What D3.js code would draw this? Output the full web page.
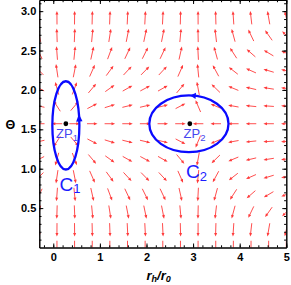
<!DOCTYPE html>
<html>
<head>
<meta charset="utf-8">
<script src="https://cdn.jsdelivr.net/npm/d3@7"></script>
<style>
body { margin: 0; background: #fff; }
text { font-family: "Liberation Sans", Arial, sans-serif; }
.axis text { font-size: 11px; font-weight: bold; fill: #000; }
.axis path, .axis line { stroke: #000; }
</style>
</head>
<body>
<div id="chart"></div>
<script>
// grid of the vector field: columns in r_h/r_0, rows in Θ
var rCols = [-0.3, 0.079, 0.457, 0.836, 1.214, 1.593, 1.971, 2.35, 2.729, 3.107, 3.486, 3.864, 4.243, 4.621, 5.0]
var phiR = [-1.0, -0.15, 0.2, 0.45, 0.75, 0.95, 1.0, 0.95, 0.45, -0.1, -0.55, -1.3, -2.3, -3.4, -4.8]
var thetaRows = [0, 0.224, 0.449, 0.673, 0.898, 1.122, 1.346, 1.571, 1.795, 2.02, 2.244, 2.468, 2.693, 2.917]
var phiTheta = [-1000, -19.7, -4.79, -2.01, -1.02, -0.535, -0.234, 0, 0.234, 0.535, 1.02, 2.01, 4.79, 19.7]

var xTicks = [0, 1, 2, 3, 4, 5]
var yTicks = [0.5, 1.0, 1.5, 2.0, 2.5, 3.0]

// zero points and the contours round them
var zpNames = ["1", "2"]
var zpR = [0.27, 2.93]
var zpTheta = [1.5708, 1.5708]
var cR = [0.27, 2.91]
var cTheta = [1.55, 1.57]
var cHalfR = [0.29, 0.85]
var cHalfTheta = [0.56, 0.36]

var width = 291, height = 285
var box = {left: 39.3, right: 286.3, top: 0, bottom: 247.5}

var x = d3.scaleLinear().domain([-0.3, 5]).range([box.left, box.right])
var y = d3.scaleLinear().domain([0, Math.PI]).range([box.bottom, box.top])

var svg = d3.select("#chart").append("svg")
    .attr("width", width)
    .attr("height", height)

svg.append("clipPath").attr("id", "clip")
  .append("rect")
    .attr("x", box.left).attr("y", box.top)
    .attr("width", box.right - box.left).attr("height", box.bottom - box.top)

// vector field
var field = []
rCols.forEach(function(r, i) {
    thetaRows.forEach(function(t, j) {
        field.push({r: r, t: t, a: phiR[i], b: phiTheta[j]})
    })
})

var fg = svg.append("g").attr("clip-path", "url(#clip)")
var red = "#ff3a3a"
field.forEach(function(d) {
    var n = Math.sqrt(d.a * d.a + d.b * d.b)
    if (n == 0) return
    var ux = d.a / n, uy = -d.b / n
    var L = 1 / Math.sqrt(Math.pow(ux / 10.5, 2) + Math.pow(uy / 13.5, 2))
    var cx = x(d.r), cy = y(d.t)
    var x0 = cx - ux * L / 2, y0 = cy - uy * L / 2
    var x1 = cx + ux * L / 2, y1 = cy + uy * L / 2
    var hl = 3.6, hw = 1.5
    fg.append("line")
        .attr("x1", x0).attr("y1", y0)
        .attr("x2", x1 - ux * hl * 0.7).attr("y2", y1 - uy * hl * 0.7)
        .style("stroke", red).style("stroke-width", 0.9)
    var bx = x1 - ux * hl, by = y1 - uy * hl
    fg.append("path")
        .attr("d", "M" + x1 + "," + y1 + "L" + (bx - uy * hw) + "," + (by + ux * hw) +
              "L" + (bx + uy * hw) + "," + (by - ux * hw) + "Z")
        .style("fill", red)
})

// axes with inward ticks on all four sides
function minor(lo, hi, step) {
    var out = []
    for (var v = lo; v <= hi + 1e-9; v += step) out.push(+v.toFixed(3))
    return out
}
var xMinor = minor(-0.2, 5, 0.2)
var yMinor = minor(0.1, 3.1, 0.1)

svg.append("g").attr("class", "axis")
    .attr("transform", "translate(0," + box.bottom + ")")
    .call(d3.axisBottom(x).tickValues(xTicks).tickSizeInner(-4).tickSizeOuter(0).tickPadding(6).tickFormat(d3.format("d")))
svg.append("g").attr("class", "axis")
    .attr("transform", "translate(0," + box.bottom + ")")
    .call(d3.axisBottom(x).tickValues(xMinor).tickSizeInner(-2.2).tickSizeOuter(0).tickFormat(""))
svg.append("g").attr("class", "axis")
    .attr("transform", "translate(0," + box.top + ")")
    .call(d3.axisTop(x).tickValues(xTicks).tickSizeInner(-4).tickSizeOuter(0).tickFormat(""))
svg.append("g").attr("class", "axis")
    .attr("transform", "translate(0," + box.top + ")")
    .call(d3.axisTop(x).tickValues(xMinor).tickSizeInner(-2.2).tickSizeOuter(0).tickFormat(""))

svg.append("g").attr("class", "axis")
    .attr("transform", "translate(" + box.left + ",0)")
    .call(d3.axisLeft(y).tickValues(yTicks).tickSizeInner(-4).tickSizeOuter(0).tickPadding(3).tickFormat(d3.format(".1f")))
svg.append("g").attr("class", "axis")
    .attr("transform", "translate(" + box.left + ",0)")
    .call(d3.axisLeft(y).tickValues(yMinor).tickSizeInner(-2.2).tickSizeOuter(0).tickFormat(""))
svg.append("g").attr("class", "axis")
    .attr("transform", "translate(" + box.right + ",0)")
    .call(d3.axisRight(y).tickValues(yTicks).tickSizeInner(-4).tickSizeOuter(0).tickFormat(""))
svg.append("g").attr("class", "axis")
    .attr("transform", "translate(" + box.right + ",0)")
    .call(d3.axisRight(y).tickValues(yMinor).tickSizeInner(-2.2).tickSizeOuter(0).tickFormat(""))

// contours C1, C2 with direction arrows (counter-clockwise)
var blue = "#0a0aff"
var tipAngle = [15, 88], baseAngle = [5, 80]
cR.forEach(function(r, k) {
    var cx = x(r), cy = y(cTheta[k])
    var rx = x(r + cHalfR[k]) - cx, ry = cy - y(cTheta[k] + cHalfTheta[k])
    svg.append("ellipse")
        .attr("cx", cx).attr("cy", cy).attr("rx", rx).attr("ry", ry)
        .style("fill", "none").style("stroke", blue).style("stroke-width", 2.3)
    var pt = function(deg) {
        var a = deg * Math.PI / 180
        return [cx + rx * Math.cos(a), cy - ry * Math.sin(a)]
    }
    var tip = pt(tipAngle[k]), base = pt(baseAngle[k])
    var dx = tip[0] - base[0], dy = tip[1] - base[1]
    var n = Math.sqrt(dx * dx + dy * dy)
    dx /= n; dy /= n
    var hw = 3.2
    svg.append("path")
        .attr("d", "M" + tip[0] + "," + tip[1] + "L" + (base[0] - dy * hw) + "," + (base[1] + dx * hw) +
              "L" + (base[0] + dy * hw) + "," + (base[1] - dx * hw) + "Z")
        .style("fill", blue)
})

// zero points
zpR.forEach(function(r, k) {
    svg.append("circle")
        .attr("cx", x(r)).attr("cy", y(zpTheta[k])).attr("r", 2.4)
        .style("fill", "#000")
})

var zpLabelX = [56, 183.5]
zpLabelX.forEach(function(lx, k) {
    var t = svg.append("text")
        .attr("x", lx).attr("y", 137.5)
        .style("font-size", "13px").style("fill", "#4646f0")
    t.append("tspan").text("ZP")
    t.append("tspan").attr("dy", 3).style("font-size", "9.5px").text(zpNames[k])
})

var cLabelX = [59.5, 186], cLabelY = [190.5, 178]
cLabelX.forEach(function(lx, k) {
    var t = svg.append("text")
        .attr("x", lx).attr("y", cLabelY[k])
        .style("font-size", "19px").style("fill", "#1c1cff")
    t.append("tspan").text("C")
    t.append("tspan").attr("dy", 2.5).style("font-size", "13px").text(zpNames[k])
})

// axis titles
svg.append("text")
    .attr("x", 10.3).attr("y", 129)
    .attr("text-anchor", "middle")
    .style("font-size", "12.5px").style("font-weight", "bold")
    .text("Θ")

var xl = svg.append("text")
    .attr("x", 146.5).attr("y", 279.5)
    .style("font-size", "13px").style("font-weight", "bold").style("font-style", "italic")
xl.append("tspan").text("r")
xl.append("tspan").attr("dy", 2.5).style("font-size", "9px").text("h")
xl.append("tspan").attr("dy", -2.5).text("/r")
xl.append("tspan").attr("dy", 2.5).style("font-size", "9px").text("0")
</script>
</body>
</html>
